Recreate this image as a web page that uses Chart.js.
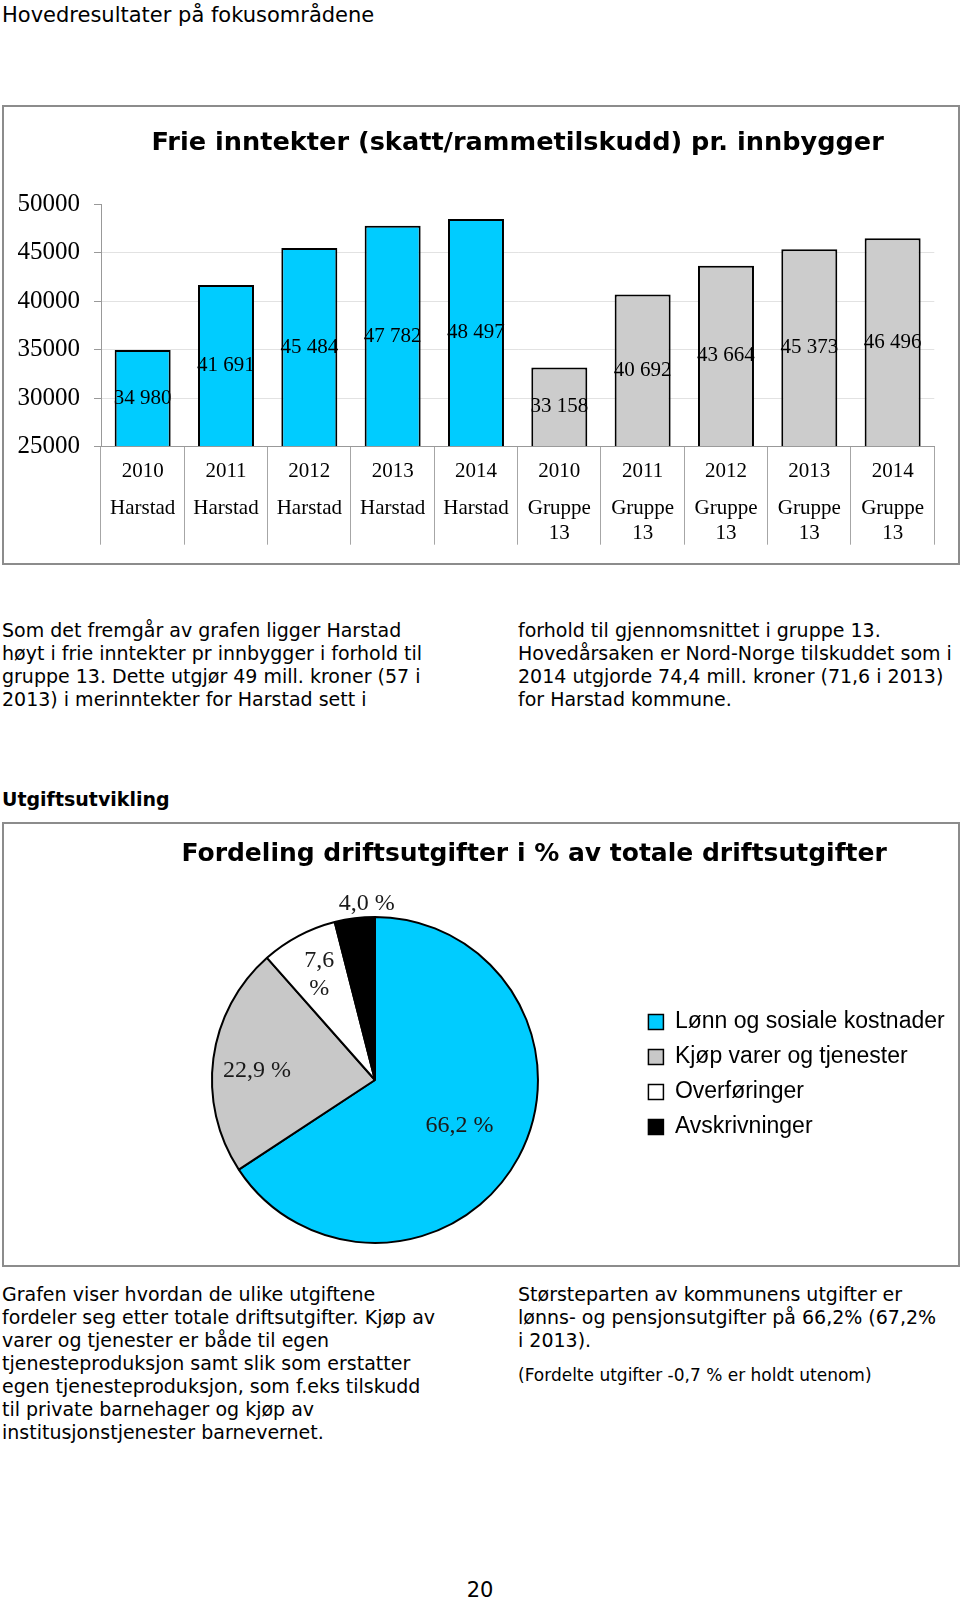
<!DOCTYPE html>
<html>
<head>
<meta charset="utf-8">
<script src="https://cdn.jsdelivr.net/npm/chart.js@4.4.1/dist/chart.umd.min.js"></script>
<style>
  html, body { margin: 0; padding: 0; background: #fff; }
  #page { position: relative; width: 960px; height: 1600px; overflow: hidden;
          font-family: "DejaVu Sans", Verdana, sans-serif; color: #000; }
  .txt { position: absolute; font-size: 19px; line-height: 23.1px; white-space: nowrap; }
  .frame { position: absolute; border: 2px solid #8c8c8c; box-sizing: border-box; }
  canvas { position: absolute; }
</style>
</head>
<body>
<div id="page">
  <div class="txt" style="left:2px; top:2.8px; font-size:21px; line-height:25.2px;">Hovedresultater på fokusområdene</div>

  <div class="frame" style="left:2px; top:105px; width:958px; height:460px;"></div>
  <canvas id="incomeChart" width="955" height="456" style="left:3px; top:107px;"></canvas>

  <div class="txt" style="left:2px; top:618.6px;">Som det fremgår av grafen ligger Harstad<br>høyt i frie inntekter pr innbygger i forhold til<br>gruppe 13. Dette utgjør 49 mill. kroner (57 i<br>2013) i merinntekter for Harstad sett i</div>
  <div class="txt" style="left:518px; top:618.6px;">forhold til gjennomsnittet i gruppe 13.<br>Hovedårsaken er Nord-Norge tilskuddet som i<br>2014 utgjorde 74,4 mill. kroner (71,6 i 2013)<br>for Harstad kommune.</div>

  <div class="txt" style="left:2px; top:788px; font-weight:bold;">Utgiftsutvikling</div>

  <div class="frame" style="left:2px; top:822px; width:958px; height:445px;"></div>
  <canvas id="costChart" width="955" height="441" style="left:3px; top:824px;"></canvas>

  <div class="txt" style="left:2px; top:1282.7px;">Grafen viser hvordan de ulike utgiftene<br>fordeler seg etter totale driftsutgifter. Kjøp av<br>varer og tjenester er både til egen<br>tjenesteproduksjon samt slik som erstatter<br>egen tjenesteproduksjon, som f.eks tilskudd<br>til private barnehager og kjøp av<br>institusjonstjenester barnevernet.</div>
  <div class="txt" style="left:518px; top:1282.7px;">Størsteparten av kommunens utgifter er<br>lønns- og pensjonsutgifter på 66,2% (67,2%<br>i 2013).</div>
  <div class="txt" style="left:518px; top:1364.8px; font-size:17px; line-height:20px;">(Fordelte utgifter -0,7 % er holdt utenom)</div>

  <div class="txt" style="left:0; width:960px; text-align:center; top:1577.6px; font-size:21px; line-height:25.2px;">20</div>
</div>

<script>
// -- data --
const years = ['2010', '2011', '2012', '2013', '2014'];
const harstad = [34980, 41691, 45484, 47782, 48497];
const gruppe13 = [33158, 40692, 43664, 45373, 46496];
const yTicks = [25000, 30000, 35000, 40000, 45000, 50000];

const costLabels = ['Lønn og sosiale kostnader', 'Kjøp varer og tjenester', 'Overføringer', 'Avskrivninger'];
const costPercent = [66.2, 22.9, 7.6, 4.0];

// -- helpers --
function thousands(v) {
  return String(v).replace(/\B(?=(\d{3})+(?!\d))/g, ' ');
}
function pct(v) {
  return v.toFixed(1).replace('.', ',') + ' %';
}

const barValueLabels = {
  id: 'barValueLabels',
  afterDatasetsDraw(chart) {
    const ctx = chart.ctx;
    const meta = chart.getDatasetMeta(0);
    const values = chart.data.datasets[0].data;
    ctx.save();
    ctx.font = '21px "Liberation Serif"';
    ctx.fillStyle = '#000';
    ctx.textAlign = 'center';
    ctx.textBaseline = 'middle';
    meta.data.forEach((bar, i) => {
      ctx.fillText(thousands(values[i]), bar.x, (bar.y + bar.base) / 2);
    });
    ctx.restore();
  }
};

const pieValueLabels = {
  id: 'pieValueLabels',
  afterDatasetsDraw(chart, args, opts) {
    const ctx = chart.ctx;
    const meta = chart.getDatasetMeta(0);
    const values = chart.data.datasets[0].data;
    const lh = 28;
    ctx.save();
    ctx.font = '24px "Liberation Serif"';
    ctx.fillStyle = '#1a1a1a';
    ctx.textAlign = 'center';
    ctx.textBaseline = 'middle';
    meta.data.forEach((arc, i) => {
      const p = arc.getProps(['x', 'y', 'startAngle', 'endAngle', 'outerRadius'], true);
      const mid = (p.startAngle + p.endAngle) / 2;
      const d = p.outerRadius * opts.radiusFactor[i];
      const text = pct(values[i]);
      const lines = opts.wrap[i] ? text.split(' ') : [text];
      const cx = p.x + Math.cos(mid) * d + opts.nudge[i][0];
      const cy = p.y + Math.sin(mid) * d + opts.nudge[i][1] - (lines.length - 1) * lh / 2;
      lines.forEach((t, k) => ctx.fillText(t, cx, cy + k * lh));
    });
    ctx.restore();
  }
};

// -- Frie inntekter --
const categoryLabels = years.concat(years);
const groupLabels = years.map(() => 'Harstad').concat(years.map(() => ['Gruppe', '13']));
const barColors = harstad.map(() => '#00ccff').concat(gruppe13.map(() => '#cccccc'));

new Chart(document.getElementById('incomeChart'), {
  type: 'bar',
  data: {
    labels: categoryLabels,
    datasets: [{
      data: harstad.concat(gruppe13),
      base: yTicks[0],
      backgroundColor: barColors,
      borderColor: '#000',
      borderWidth: 2,
      barPercentage: 0.672,
      categoryPercentage: 1
    }]
  },
  options: {
    responsive: false,
    animation: false,
    devicePixelRatio: 1,
    layout: { padding: { left: 0, right: 23.7, top: 0, bottom: 19.3 } },
    plugins: {
      legend: { display: false },
      tooltip: { enabled: false },
      title: {
        display: true,
        text: 'Frie inntekter (skatt/rammetilskudd) pr. innbygger',
        fullSize: false,
        color: '#000',
        font: { family: 'DejaVu Sans', size: 25.6, weight: 'bold' },
        padding: { top: 21, bottom: 45.6 }
      }
    },
    scales: {
      y: {
        min: 25000,
        max: 50000,
        afterBuildTicks: s => { s.ticks = yTicks.map(v => ({ value: v })); },
        afterFit: s => { s.width = 98; },
        border: { color: '#999', width: 1 },
        grid: {
          color: c => (c.tick && c.tick.value === 50000) ? 'rgba(0,0,0,0)' : '#e2e2e2',
          tickColor: '#999',
          tickLength: 7
        },
        ticks: {
          padding: 14,
          color: '#000',
          font: { family: 'Liberation Serif', size: 25 },
          callback: v => String(v)
        }
      },
      x: {
        offset: true,
        weight: 0,
        afterFit: s => { s.height = 37; },
        border: { color: '#999', width: 1 },
        grid: { offset: true, drawOnChartArea: false, color: '#a6a6a6', tickLength: 98 },
        ticks: {
          padding: -86.3,
          color: '#000',
          maxRotation: 0,
          autoSkip: false,
          font: { family: 'Liberation Serif', size: 21 }
        }
      },
      x2: {
        type: 'category',
        labels: groupLabels,
        position: 'bottom',
        offset: true,
        weight: 1,
        afterFit: s => { s.height = 60; },
        border: { display: false },
        grid: { display: false, drawTicks: false },
        ticks: {
          padding: 11.8,
          color: '#000',
          maxRotation: 0,
          autoSkip: false,
          font: { family: 'Liberation Serif', size: 21, lineHeight: 25 / 21 }
        }
      }
    }
  },
  plugins: [barValueLabels]
});

// -- Fordeling driftsutgifter --
new Chart(document.getElementById('costChart'), {
  type: 'pie',
  data: {
    labels: costLabels,
    datasets: [{
      data: costPercent,
      backgroundColor: ['#00ccff', '#c8c8c8', '#ffffff', '#000000'],
      borderColor: '#000',
      borderWidth: 2
    }]
  },
  options: {
    responsive: false,
    animation: false,
    devicePixelRatio: 1,
    layout: { padding: { left: 110.5, right: 3.3, top: 0, bottom: 21 } },
    plugins: {
      tooltip: { enabled: false },
      title: {
        display: true,
        text: 'Fordeling driftsutgifter i % av totale driftsutgifter',
        color: '#000',
        font: { family: 'DejaVu Sans', size: 25, weight: 'bold' },
        padding: { top: 15, bottom: 47 }
      },
      legend: {
        position: 'right',
        fullSize: false,
        align: 'start',
        title: { display: true, text: '', font: { size: 10 }, padding: { top: 70.5, bottom: 0 } },
        labels: {
          color: '#000',
          font: { family: 'Liberation Sans', size: 23 },
          boxWidth: 15,
          boxHeight: 15,
          padding: 12,
          generateLabels: chart => Chart.overrides.pie.plugins.legend.labels.generateLabels(chart)
            .map(item => Object.assign(item, { lineWidth: 1.5, strokeStyle: '#000' }))
        }
      },
      pieValueLabels: {
        radiusFactor: [0.59, 0.73, 0.73, 1.09],
        nudge: [[0, 0], [0, 6], [0, 0], [14, 0]],
        wrap: [false, false, true, false]
      }
    }
  },
  plugins: [pieValueLabels]
});
</script>
</body>
</html>
